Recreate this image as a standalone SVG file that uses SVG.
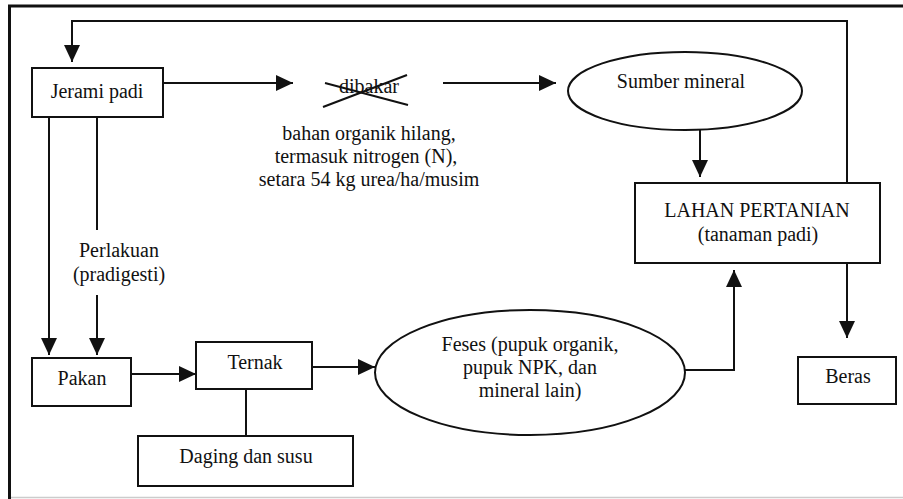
<svg xmlns="http://www.w3.org/2000/svg" width="903" height="499" viewBox="0 0 903 499">
<style>
.box{fill:#fff;stroke:#111;stroke-width:2}
.t{font-size:20px;fill:#111;text-anchor:middle}
.c{fill:none;stroke:#111;stroke-width:2}
.a{marker-end:url(#ah)}
</style>
<defs>
<marker id="ah" markerUnits="userSpaceOnUse" markerWidth="18" markerHeight="16" refX="17" refY="8" orient="auto">
<path d="M0,0 L17,8 L0,16 z" fill="#111"/>
</marker>
</defs>
<rect width="903" height="499" fill="#fff"/>
<g id="frame">
<path d="M903,6 H9.5 V499" fill="none" stroke="#111" stroke-width="3"/>
<line x1="11" y1="497.5" x2="903" y2="497.5" stroke="#ccc" stroke-width="1.5"/>
</g>
<g id="connectors">
<polyline class="c a" points="847,183 847,21 72,21 72,62"/>
<line class="c a" x1="163" y1="83" x2="293" y2="83"/>
<line class="c a" x1="443" y1="83" x2="556" y2="83"/>
<line class="c a" x1="700" y1="130" x2="700" y2="177"/>
<line class="c a" x1="49" y1="117" x2="49" y2="355"/>
<line class="c" x1="97" y1="117" x2="97" y2="230"/>
<line class="c a" x1="97" y1="295" x2="97" y2="355"/>
<line class="c a" x1="131" y1="374" x2="196" y2="374"/>
<line class="c a" x1="312" y1="367" x2="375" y2="367"/>
<line class="c" x1="246" y1="389" x2="246" y2="436"/>
<polyline class="c a" points="685,370 734,370 734,270"/>
<line class="c a" x1="847" y1="263" x2="847" y2="338"/>
</g>
<g font-family="'Liberation Serif', 'DejaVu Serif', serif">
<g id="jerami">
<rect class="box" x="32" y="68" width="131" height="49"/>
<text class="t" x="97" y="98">Jerami padi</text>
</g>
<g id="dibakar">
<text class="t" x="369" y="93">dibakar</text>
<line class="c" x1="325" y1="83" x2="408" y2="105" stroke-width="1.8"/>
<line class="c" x1="323" y1="107" x2="407" y2="75" stroke-width="1.8"/>
</g>
<g id="hilang">
<text class="t" x="369" y="140">bahan organik hilang,</text>
<text class="t" x="366" y="163">termasuk nitrogen (N),</text>
<text class="t" x="369" y="186">setara 54 kg urea/ha/musim</text>
</g>
<g id="sumber">
<ellipse class="box" cx="685" cy="91" rx="117" ry="39"/>
<text class="t" x="681" y="88">Sumber mineral</text>
</g>
<g id="lahan">
<rect class="box" x="635" y="183" width="245" height="80"/>
<text class="t" x="757" y="217">LAHAN PERTANIAN</text>
<text class="t" x="758" y="241">(tanaman padi)</text>
</g>
<g id="perlakuan">
<text class="t" x="119" y="257">Perlakuan</text>
<text class="t" x="119" y="281">(pradigesti)</text>
</g>
<g id="pakan">
<rect class="box" x="32" y="358" width="99" height="48"/>
<text class="t" x="82" y="385">Pakan</text>
</g>
<g id="ternak">
<rect class="box" x="196" y="342" width="116" height="47"/>
<text class="t" x="255" y="369">Ternak</text>
</g>
<g id="daging">
<rect class="box" x="138" y="436" width="215" height="50"/>
<text class="t" x="246" y="463">Daging dan susu</text>
</g>
<g id="feses">
<ellipse class="box" cx="530" cy="372.5" rx="155" ry="62.5"/>
<text class="t" x="530" y="351">Feses (pupuk organik,</text>
<text class="t" x="530" y="374">pupuk NPK, dan</text>
<text class="t" x="530" y="397">mineral lain)</text>
</g>
<g id="beras">
<rect class="box" x="798" y="357" width="98" height="47"/>
<text class="t" x="848" y="383">Beras</text>
</g>
</g>
</svg>
